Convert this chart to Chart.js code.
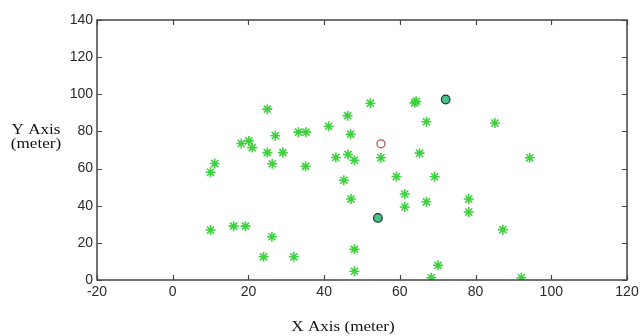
<!DOCTYPE html>
<html><head><meta charset="utf-8">
<script src="https://cdn.jsdelivr.net/npm/chart.js@4/dist/chart.umd.min.js"></script>
<style>html,body{margin:0;padding:0;background:#fff;}#wrap{width:643px;height:336px;position:relative}</style>
</head><body><div id="wrap"><canvas id="c" width="643" height="336"></canvas></div>
<script>
// Data
const sensorX = [25.0, 52.2, 46.2, 41.2, 47.0, 27.1, 33.2, 35.2, 18.1, 20.1, 21.0, 25.0, 29.1, 26.3, 35.1, 43.1, 46.3, 48.0, 45.2, 11.1, 10.0,
                 63.9, 64.3, 67.0, 85.1, 55.0, 65.2, 94.3, 59.1, 69.2,
                 10.0, 16.1, 19.2, 26.2, 24.0, 32.0,
                 47.1, 61.3, 61.3, 67.0, 78.2, 78.2, 87.2, 48.0, 48.0, 70.1, 68.3, 92.1];
const sensorY = [92.0, 95.2, 88.5, 82.8, 78.5, 77.7, 79.6, 79.6, 73.5, 74.9, 71.3, 68.6, 68.6, 62.6, 61.2, 66.0, 67.6, 64.5, 53.7, 62.7, 58.0,
                 95.4, 96.2, 85.2, 84.5, 65.8, 68.3, 65.8, 55.7, 55.6,
                 26.9, 29.0, 29.0, 23.3, 12.5, 12.5,
                 43.6, 46.3, 39.3, 42.1, 43.6, 36.6, 27.1, 16.5, 4.7, 7.9, 1.2, 1.2];
const anchorX = [72.1, 54.2];
const anchorY = [97.2, 33.4];
const targetX = [55.0];
const targetY = [73.3];
const xTickValues = [-20, 0, 20, 40, 60, 80, 100, 120];
const yTickValues = [0, 20, 40, 60, 80, 100, 120, 140];
const xTitle = 'X Axis (meter)';
const yTitleLines = ['Y Axis', '(meter)'];

const toPoints = (xs, ys) => xs.map((x, i) => ({x: x, y: ys[i]}));

const framePlugin = {
  id: 'frame',
  afterDatasetsDraw(chart) {
    const {ctx, chartArea: a, scales} = chart;
    ctx.save();
    ctx.strokeStyle = '#444';
    ctx.lineWidth = 1.5;
    ctx.strokeRect(a.left, a.top, a.right - a.left, a.bottom - a.top);
    ctx.lineWidth = 1.2;
    const L = 5;
    ctx.beginPath();
    xTickValues.forEach(v => {
      const px = Math.round(scales.x.getPixelForValue(v)) + 0.5;
      ctx.moveTo(px, a.bottom); ctx.lineTo(px, a.bottom - L);
      ctx.moveTo(px, a.top); ctx.lineTo(px, a.top + L);
    });
    yTickValues.forEach(v => {
      const py = Math.round(scales.y.getPixelForValue(v)) + 0.5;
      ctx.moveTo(a.left, py); ctx.lineTo(a.left + L, py);
      ctx.moveTo(a.right, py); ctx.lineTo(a.right - L, py);
    });
    ctx.stroke();
    ctx.restore();
  },
  afterDraw(chart) {
    const ctx = chart.ctx;
    ctx.save();
    ctx.fillStyle = '#111';
    ctx.font = '14px "Liberation Serif", "Times New Roman", serif';
    ctx.textBaseline = 'alphabetic';
    ctx.textAlign = 'center';
    const sx = 1.22;
    ctx.save();
    ctx.translate(343, 331);
    ctx.scale(sx, 1);
    ctx.fillText(xTitle, 0, 0);
    ctx.restore();
    ctx.save();
    ctx.translate(36, 134);
    ctx.scale(sx, 1);
    ctx.fillText(yTitleLines[0], 0, 0);
    ctx.fillText(yTitleLines[1], 0, 14);
    ctx.restore();
    ctx.restore();
  }
};

new Chart(document.getElementById('c'), {
  type: 'scatter',
  data: {
    datasets: [
      {
        label: 'Sensors',
        data: toPoints(sensorX, sensorY),
        pointStyle: 'star',
        pointRadius: 5,
        borderColor: '#3fd03f',
        backgroundColor: '#3fd03f',
        pointBorderWidth: 1.6
      },
      {
        label: 'Anchors',
        data: toPoints(anchorX, anchorY),
        pointStyle: 'circle',
        pointRadius: 4.3,
        backgroundColor: '#48c487',
        borderColor: '#1c3333',
        pointBorderWidth: 1.2
      },
      {
        label: 'Target',
        data: toPoints(targetX, targetY),
        pointStyle: 'circle',
        pointRadius: 4,
        backgroundColor: '#ffffff',
        borderColor: '#a85050',
        pointBorderWidth: 1.2
      }
    ]
  },
  options: {
    responsive: false,
    animation: false,
    layout: {padding: {top: 20, right: 16, left: 0, bottom: 0}},
    plugins: {legend: {display: false}, tooltip: {enabled: false}},
    scales: {
      x: {
        type: 'linear', min: -20, max: 120,
        afterBuildTicks: s => { s.ticks = xTickValues.map(v => ({value: v})); },
        afterFit: s => { s.height = 56; },
        grid: {display: false, drawTicks: false}, border: {display: false},
        ticks: {color: '#2a2a2a', padding: 4, maxRotation: 0, autoSkip: false,
                font: {family: '"Liberation Sans", Arial, sans-serif', size: 14}}
      },
      y: {
        type: 'linear', min: 0, max: 140,
        afterBuildTicks: s => { s.ticks = yTickValues.map(v => ({value: v})); },
        afterFit: s => { s.width = 97; },
        grid: {display: false, drawTicks: false}, border: {display: false},
        ticks: {color: '#2a2a2a', padding: 4, autoSkip: false,
                font: {family: '"Liberation Sans", Arial, sans-serif', size: 14}}
      }
    }
  },
  plugins: [framePlugin]
});
</script>
</body></html>
